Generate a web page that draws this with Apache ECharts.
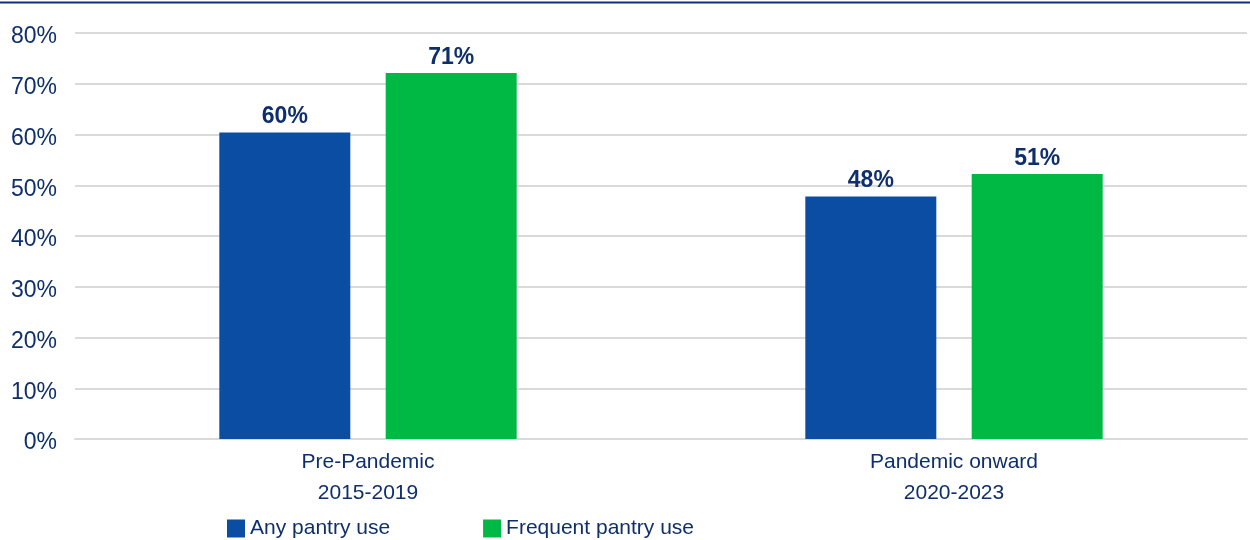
<!DOCTYPE html>
<html>
<head>
<meta charset="utf-8">
<script src="https://cdn.jsdelivr.net/npm/echarts@6/dist/echarts.min.js"></script>
<style>
  html, body { margin: 0; padding: 0; background: #fff; }
  #chart { width: 1250px; height: 540px; }
</style>
</head>
<body>
<div id="chart"></div>
<script>
const categories = ['Pre-Pandemic\n2015-2019', 'Pandemic onward\n2020-2023'];
const seriesNames = ['Any pantry use', 'Frequent pantry use'];
// bar heights as drawn in the picture
const anyUse = [60.4, 47.8];
const frequentUse = [72.1, 52.2];
// printed labels
const anyLabels = ['60%', '48%'];
const frequentLabels = ['71%', '51%'];
const yTicks = [0, 10, 20, 30, 40, 50, 60, 70, 80];

const navy = '#0e2f6b';
const font = '"Liberation Sans", Arial, sans-serif';

const chart = echarts.init(document.getElementById('chart'));

const makeSeries = (name, values, labels, color) => ({
  name,
  type: 'bar',
  data: values,
  barWidth: 131,
  barGap: '27%',
  itemStyle: { color },
  label: {
    show: true,
    position: 'top',
    distance: 4,
    color: navy,
    fontFamily: font,
    fontSize: 23,
    fontWeight: 'bold',
    formatter: (p) => labels[p.dataIndex],
  },
});

chart.setOption({
  animation: false,
  textStyle: { fontFamily: font },
  grid: { left: 75, right: 3, top: 33, bottom: 101 },
  graphic: [{
    type: 'line',
    shape: { x1: 0, y1: 2.5, x2: 1250, y2: 2.5 },
    style: { stroke: '#0b2f7a', lineWidth: 2 },
  }],
  legend: {
    left: 222,
    top: 513,
    itemWidth: 18,
    itemHeight: 18,
    itemGap: 93,
    icon: 'rect',
    textStyle: { color: navy, fontSize: 21, fontFamily: font },
    data: seriesNames,
  },
  xAxis: {
    type: 'category',
    data: categories,
    axisLine: { lineStyle: { color: '#dadada', width: 2 } },
    axisTick: { show: false },
    axisLabel: { color: navy, fontSize: 21, lineHeight: 31, margin: 8, fontFamily: font },
  },
  yAxis: {
    type: 'value',
    min: yTicks[0],
    max: yTicks[yTicks.length - 1],
    interval: 10,
    axisLine: { show: false },
    axisTick: { show: false },
    splitLine: { lineStyle: { color: '#dadada', width: 2 } },
    axisLabel: {
      margin: 18,
      formatter: (v) => '{t|' + v + '%}',
      rich: {
        t: { color: navy, fontSize: 23, fontFamily: font, padding: [8, 0, 0, 0] },
      },
    },
  },
  series: [
    makeSeries(seriesNames[0], anyUse, anyLabels, '#0b4da2'),
    makeSeries(seriesNames[1], frequentUse, frequentLabels, '#00b944'),
  ],
});
</script>
</body>
</html>
